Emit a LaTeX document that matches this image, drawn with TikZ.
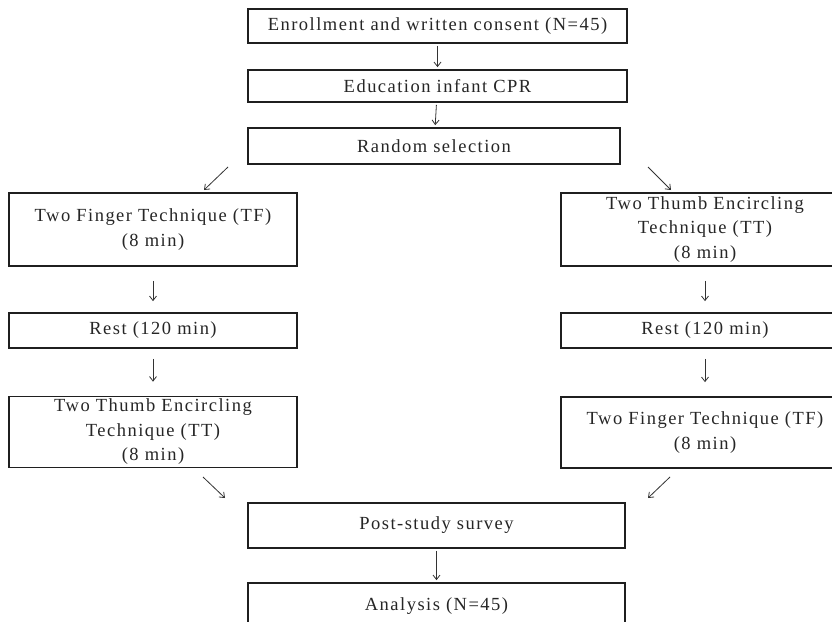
\documentclass[tikz,border=0pt]{standalone}
\usepackage{fontspec}
\setmainfont{Liberation Serif}[LetterSpace=8]
\usetikzlibrary{arrows.meta}
\tikzset{
  box/.style={draw=black!88, line width=1.7pt, inner sep=0pt, align=center,
    font=\fontsize{18.5}{24.5}\selectfont, text=black!85},
  arr/.style={line width=0.8pt, draw=black!80, -{Straight Barb[length=4.5pt,width=7pt]}},
}
\begin{document}
\begin{tikzpicture}[x=1pt,y=-1pt]
\useasboundingbox (0,0) rectangle (832,621);
\clip (0,0) rectangle (832,621);
\fill[white] (0,0) rectangle (832,621);
% top column
\node[box, minimum width=379pt, minimum height=34pt] (enr) at (437.5,26) {Enrollment and written consent (N=45)};
\node[box, minimum width=379pt, minimum height=32pt] (edu) at (437.5,86) {Education infant CPR};
\node[box, minimum width=372pt, minimum height=36pt] (rand) at (434,146) {Random selection};
% left column
\node[box, minimum width=288pt, minimum height=73pt] (lTF) at (153,229.5) {Two Finger Technique (TF)\\(8 min)};
\node[box, minimum width=288pt, minimum height=35pt] (lRest) at (153,330.5) {Rest (120 min)};
\node[box, minimum width=288pt, minimum height=71pt] (lTT) at (153,432) {Two Thumb Encircling\\Technique (TT)\\(8 min)};
% right column
\node[box, minimum width=288pt, minimum height=73pt] (rTT) at (705,229.5) {Two Thumb Encircling\\Technique (TT)\\(8 min)};
\node[box, minimum width=288pt, minimum height=35pt] (rRest) at (705,330.5) {Rest (120 min)};
\node[box, minimum width=288pt, minimum height=71pt] (rTF) at (705,432.5) {Two Finger Technique (TF)\\(8 min)};
% bottom column
\node[box, minimum width=377pt, minimum height=45pt] (post) at (436.5,525.5) {Post-study survey};
\node[box, minimum width=377pt, minimum height=47pt] (ana) at (436.5,606.5) {Analysis (N=45)};
% vertical arrows
\draw[arr, shorten <=2pt, shorten >=2pt] (enr) -- (edu);
\draw[arr, shorten <=2pt, shorten >=2pt] (edu) -- (rand);
\draw[arr, shorten <=14pt, shorten >=11pt] (lTF) -- (lRest);
\draw[arr, shorten <=10pt, shorten >=14pt] (lRest) -- (lTT);
\draw[arr, shorten <=14pt, shorten >=11pt] (rTT) -- (rRest);
\draw[arr, shorten <=10pt, shorten >=14pt] (rRest) -- (rTF);
\draw[arr, shorten <=2pt, shorten >=2pt] (post) -- (ana);
% diagonal arrows
\coordinate (d1s) at (228,167); \coordinate (d1e) at (204,190);
\coordinate (d2s) at (648,167); \coordinate (d2e) at (671,190);
\coordinate (d3s) at (203,477); \coordinate (d3e) at (225,498);
\coordinate (d4s) at (670,477); \coordinate (d4e) at (648,498);
\draw[arr] (d1s) -- (d1e);
\draw[arr] (d2s) -- (d2e);
\draw[arr] (d3s) -- (d3e);
\draw[arr] (d4s) -- (d4e);
\end{tikzpicture}
\end{document}
